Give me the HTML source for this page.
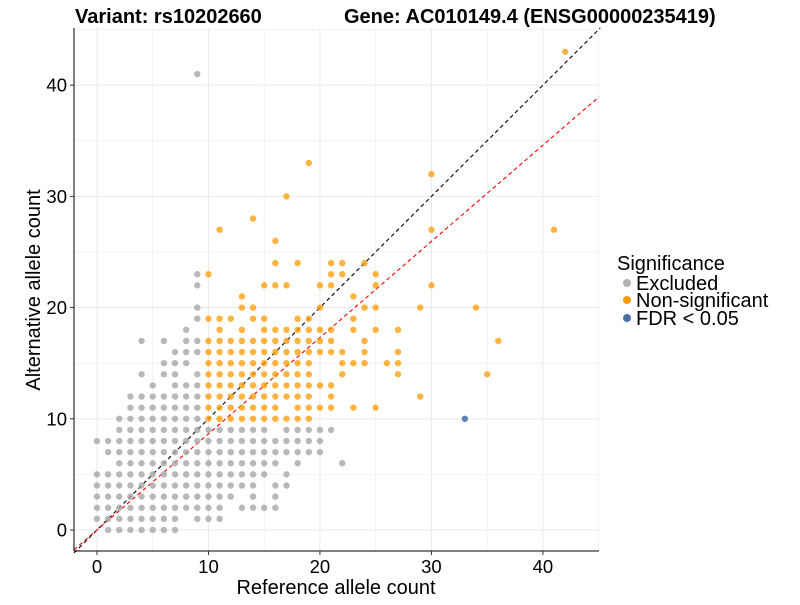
<!DOCTYPE html>
<html><head><meta charset="utf-8"><style>
body{margin:0;background:#fff;font-family:"Liberation Sans",sans-serif}
svg text{font-family:"Liberation Sans",sans-serif}
</style></head><body>
<svg id="chart" width="800" height="600" xmlns="http://www.w3.org/2000/svg">
<g id="grid"></g>
<g id="lines"></g>
<g id="pts"></g>
<g id="axes"></g>
<text x="75" y="23" font-size="20" font-weight="bold">Variant: rs10202660</text>
<text x="344" y="23" font-size="20" font-weight="bold">Gene: AC010149.4 (ENSG00000235419)</text>
<text x="336" y="594" font-size="20" text-anchor="middle">Reference allele count</text>
<text transform="translate(40,290) rotate(-90)" font-size="20" text-anchor="middle">Alternative allele count</text>
<g>
<text x="617" y="270" font-size="20">Significance</text>
<circle cx="627" cy="283" r="4" fill="#b3b3b3"/>
<text x="636" y="290" font-size="20">Excluded</text>
<circle cx="627" cy="300" r="4" fill="#ff9900"/>
<text x="636" y="307" font-size="20">Non-significant</text>
<circle cx="627" cy="318" r="4" fill="#4a74a8"/>
<text x="636" y="325" font-size="20">FDR &lt; 0.05</text>
</g>
</svg>
<script>
// rows: [alt, [ref values]]
const excludedRows = [
 [0,[1,2,3,4,5,6,7]],
 [1,[0,1,2,3,4,5,6,7,9,10,11]],
 [2,[0,1,2,3,4,5,6,7,8,9,10,11,13,14,15,16]],
 [3,[0,1,2,3,4,5,6,7,8,9,10,11,12,14,16]],
 [4,[0,1,2,3,4,5,6,7,8,9,10,11,12,13,14,16,17]],
 [5,[0,1,2,3,4,5,6,7,8,9,10,11,12,13,14,15,17]],
 [6,[2,3,4,5,6,7,8,9,10,11,12,13,14,15,16,18,22]],
 [7,[1,2,3,4,5,6,7,8,9,10,11,12,13,14,15,16,17,18,19,20]],
 [8,[0,1,2,3,4,5,6,7,8,9,10,11,12,13,14,15,16,17,18,19,20]],
 [9,[2,3,4,5,6,7,8,9,10,11,12,13,14,15,17,18,19,20,21]],
 [10,[2,3,4,5,6,7,8,9]],
 [11,[3,4,5,6,7,8,9]],
 [12,[3,4,5,6,7,8,9]],
 [13,[5,7,8,9]],
 [14,[4,6,7,9]],
 [15,[6,7,8]],
 [16,[7,8,9]],
 [17,[4,6,8,9]],
 [18,[8]],[19,[9]],[20,[9]],[22,[9]],[23,[9]],[41,[9]]
];
const nonsigRows = [
 [10,[10,11,12,13,14,15,16,17,18,19]],
 [11,[10,11,12,13,14,15,16,18,19,20,21,23,25]],
 [12,[10,11,12,13,14,15,16,17,18,19,21,29]],
 [13,[10,11,12,13,14,15,16,17,18,19,20,21]],
 [14,[10,11,12,13,14,15,16,17,18,19,22,27,35]],
 [15,[10,11,12,13,14,15,16,17,18,19,22,23,24,26,27]],
 [16,[10,11,12,13,14,15,16,17,18,19,20,21,22,24,27]],
 [17,[10,11,12,13,14,15,16,17,18,19,20,21,24,36]],
 [18,[11,13,15,16,17,18,19,20,21,23,25,27]],
 [19,[10,11,12,14,15,18,19,23]],
 [20,[13,14,20,24,25,29,34]],
 [21,[13,23]],
 [22,[15,16,17,20,21,25,30]],
 [23,[10,21,22,25]],
 [24,[16,18,21,22,24]],
 [26,[16]],
 [27,[11,30,41]],
 [28,[14]],[30,[17]],[32,[30]],[33,[19]],[43,[42]]
];
const fdrRows = [[10,[33]]];
const xTicks = [0,10,20,30,40];
const yTicks = [0,10,20,30,40];
const redSlope = 0.865;

const NS="http://www.w3.org/2000/svg";
const X0=74,X1=599,Y0=28,Y1=551;
const xmin=-2.06,xmax=45.03,ymin=-1.89,ymax=45.14;
const sx=v=>X0+(v-xmin)/(xmax-xmin)*(X1-X0);
const sy=v=>Y1-(v-ymin)/(ymax-ymin)*(Y1-Y0);
function mk(tag,attrs,parent){const e=document.createElementNS(NS,tag);for(const k in attrs)e.setAttribute(k,attrs[k]);parent.appendChild(e);return e;}
const grid=document.getElementById('grid'),lines=document.getElementById('lines'),pts=document.getElementById('pts'),axes=document.getElementById('axes');
for(let v=0;v<=45;v+=5){
  const major=v%10===0;
  let l=mk('line',{x1:sx(v),x2:sx(v),y1:Y0,y2:Y1,stroke:'#ebebeb','stroke-width':major?1.1:0.6},grid);
  
  
  l=mk('line',{x1:X0,x2:X1,y1:sy(v),y2:sy(v),stroke:'#ebebeb','stroke-width':major?1.1:0.6},grid);
  
  
}
let dl=mk('line',{x1:sx(xmin),y1:sy(xmin),x2:sx(45.14),y2:sy(45.14),stroke:'#000','stroke-width':1.1,'stroke-dasharray':'4,3'},lines);


let rl=mk('line',{x1:sx(xmin),y1:sy(xmin*redSlope),x2:sx(xmax),y2:sy(xmax*redSlope),stroke:'#ff0000','stroke-width':1.1,'stroke-dasharray':'4,3'},lines);


function draw(rows,fill,op,name){
  rows.forEach(([y,xs])=>xs.forEach(x=>{
    const c=mk('circle',{cx:sx(x),cy:sy(y),r:3.2,fill:fill,'fill-opacity':op},pts);
    
    
  }));
}
draw(excludedRows,'#a6a6a6',0.8,'point-excluded');
draw(nonsigRows,'#ff9900',0.75,'point-nonsignificant');
draw(fdrRows,'#4a74a8',0.9,'point-fdr');
let ax=mk('line',{x1:X0,x2:X0,y1:Y0,y2:Y1,stroke:'#000','stroke-width':1},axes);


ax=mk('line',{x1:X0,x2:X1,y1:Y1,y2:Y1,stroke:'#000','stroke-width':1},axes);


xTicks.forEach(v=>{
  let t=mk('line',{x1:sx(v),x2:sx(v),y1:Y1,y2:Y1+4,stroke:'#333'},axes);
  
  
  const tx=mk('text',{x:sx(v),y:Y1+22,'font-size':18.5,'text-anchor':'middle',fill:'#000'},axes);
  tx.textContent=v;
  
  
});
yTicks.forEach(v=>{
  let t=mk('line',{x1:X0-4,x2:X0,y1:sy(v),y2:sy(v),stroke:'#333'},axes);
  
  
  const tx=mk('text',{x:X0-7,y:sy(v)+6.5,'font-size':18.5,'text-anchor':'end',fill:'#000'},axes);
  tx.textContent=v;
  
  
});
</script>
</body></html>
